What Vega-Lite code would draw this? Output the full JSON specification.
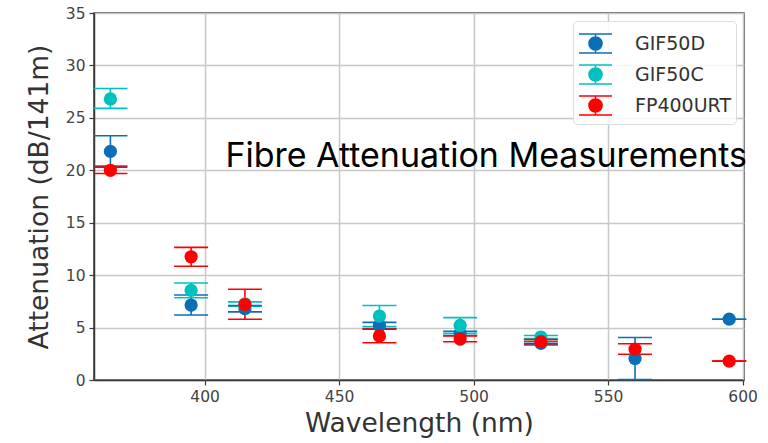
{
  "$schema": "https://vega.github.io/schema/vega-lite/v6.json",
  "width": 650,
  "height": 367,
  "autosize": {"type": "none"},
  "padding": {"left": 94, "top": 13, "right": 24, "bottom": 63},
  "background": "white",
  "title": {
    "text": "Fibre Attenuation Measurements",
    "orient": "top",
    "anchor": "end",
    "frame": "group",
    "offset": 0,
    "dy": 195,
    "dx": 3,
    "baseline": "alphabetic",
    "font": "Inter",
    "fontSize": 34,
    "fontWeight": "normal",
    "color": "#000000"
  },
  "data": {
    "values": [
      {"wl": 365, "series": "GIF50D", "val": 21.8, "lo": 20.4, "hi": 23.3},
      {"wl": 395, "series": "GIF50D", "val": 7.15, "lo": 6.2, "hi": 8.1},
      {"wl": 415, "series": "GIF50D", "val": 6.8, "lo": 6.5, "hi": 7.1},
      {"wl": 465, "series": "GIF50D", "val": 5.2, "lo": 4.9, "hi": 5.5},
      {"wl": 495, "series": "GIF50D", "val": 4.45, "lo": 4.25, "hi": 4.65},
      {"wl": 525, "series": "GIF50D", "val": 3.5, "lo": 3.35, "hi": 3.65},
      {"wl": 560, "series": "GIF50D", "val": 2.05, "lo": 0.05, "hi": 4.05},
      {"wl": 595, "series": "GIF50D", "val": 5.8, "lo": 5.8, "hi": 5.8},
      {"wl": 365, "series": "GIF50C", "val": 26.8, "lo": 25.9, "hi": 27.8},
      {"wl": 395, "series": "GIF50C", "val": 8.55, "lo": 7.85, "hi": 9.25},
      {"wl": 415, "series": "GIF50C", "val": 7.25, "lo": 7.05, "hi": 7.45},
      {"wl": 465, "series": "GIF50C", "val": 6.1, "lo": 5.1, "hi": 7.1},
      {"wl": 495, "series": "GIF50C", "val": 5.2, "lo": 4.45, "hi": 5.95},
      {"wl": 525, "series": "GIF50C", "val": 4.1, "lo": 3.95, "hi": 4.25},
      {"wl": 365, "series": "FP400URT", "val": 20.0, "lo": 19.7, "hi": 20.3},
      {"wl": 395, "series": "FP400URT", "val": 11.75, "lo": 10.85, "hi": 12.65},
      {"wl": 415, "series": "FP400URT", "val": 7.2, "lo": 5.8, "hi": 8.65},
      {"wl": 465, "series": "FP400URT", "val": 4.2, "lo": 3.55, "hi": 4.85},
      {"wl": 495, "series": "FP400URT", "val": 3.9, "lo": 3.65, "hi": 4.2},
      {"wl": 525, "series": "FP400URT", "val": 3.65, "lo": 3.45, "hi": 3.85},
      {"wl": 560, "series": "FP400URT", "val": 2.95, "lo": 2.45, "hi": 3.45},
      {"wl": 595, "series": "FP400URT", "val": 1.8, "lo": 1.8, "hi": 1.8}
    ]
  },
  "encoding": {
    "x": {
      "field": "wl",
      "type": "quantitative",
      "scale": {"domain": [358.9, 600.5], "nice": false, "zero": false},
      "axis": {"values": [400, 450, 500, 550, 600], "title": "Wavelength (nm)"}
    },
    "color": {
      "field": "series",
      "type": "nominal",
      "scale": {"domain": ["GIF50D", "GIF50C", "FP400URT"], "range": ["#0a70b6", "#00c0c0", "#ff0000"]},
      "legend": {
        "title": null,
        "orient": "top-right",
        "offset": 8,
        "symbolType": "M-1,-0.58L1,-0.58M0,-0.58L0,0.58M-1,0.58L1,0.58M-0.4,0A0.4,0.4,0,1,0,0.4,0A0.4,0.4,0,1,0,-0.4,0Z",
        "symbolSize": 1089,
        "symbolStrokeWidth": 1.5,
        "labelFont": "DejaVu Sans",
        "labelFontSize": 19,
        "labelColor": "#333333",
        "labelOffset": 22,
        "rowPadding": -2,
        "padding": 5,
        "fillColor": "rgba(255,255,255,0.85)",
        "strokeColor": "#dddddd",
        "cornerRadius": 4,
        "encode": {
          "symbols": {
            "update": {
              "fill": {"scale": "color", "field": "value"},
              "stroke": {"scale": "color", "field": "value"},
              "opacity": {"value": 1}
            }
          }
        }
      }
    }
  },
  "layer": [
    {
      "mark": {"type": "rule", "strokeWidth": 1.6},
      "encoding": {
        "y": {"field": "lo", "type": "quantitative", "scale": {"domain": [0, 35], "nice": false}, "axis": {"title": "Attenuation (dB/141m)", "values": [0, 5, 10, 15, 20, 25, 30, 35]}},
        "y2": {"field": "hi"}
      }
    },
    {
      "mark": {"type": "tick", "orient": "horizontal", "size": 34, "thickness": 1.6, "opacity": 1},
      "encoding": {
        "y": {"field": "lo", "type": "quantitative", "scale": {"domain": [0, 35], "nice": false}, "axis": {"title": "Attenuation (dB/141m)"}}
      }
    },
    {
      "mark": {"type": "tick", "orient": "horizontal", "size": 34, "thickness": 1.6, "opacity": 1},
      "encoding": {
        "y": {"field": "hi", "type": "quantitative", "scale": {"domain": [0, 35], "nice": false}, "axis": {"title": "Attenuation (dB/141m)"}}
      }
    },
    {
      "mark": {"type": "circle", "size": 175, "opacity": 1},
      "encoding": {
        "y": {"field": "val", "type": "quantitative", "scale": {"domain": [0, 35], "nice": false}, "axis": {"title": "Attenuation (dB/141m)"}}
      }
    }
  ],
  "config": {
    "view": {"stroke": "#3a3a3a", "strokeWidth": 1.5},
    "axis": {
      "labelFont": "DejaVu Sans",
      "labelFontSize": 15.5,
      "labelColor": "#444444",
      "titleFont": "DejaVu Sans",
      "titleFontSize": 26.5,
      "titleFontWeight": "normal",
      "titleColor": "#333333",
      "gridColor": "#c8c8c8",
      "gridWidth": 1.5,
      "domainColor": "#3a3a3a",
      "domainWidth": 1.5,
      "tickColor": "#3a3a3a",
      "tickWidth": 1.2,
      "tickSize": 5,
      "labelPadding": 4
    },
    "axisX": {"titlePadding": 6, "labelFlush": false},
    "axisY": {"titlePadding": 12}
  }
}
